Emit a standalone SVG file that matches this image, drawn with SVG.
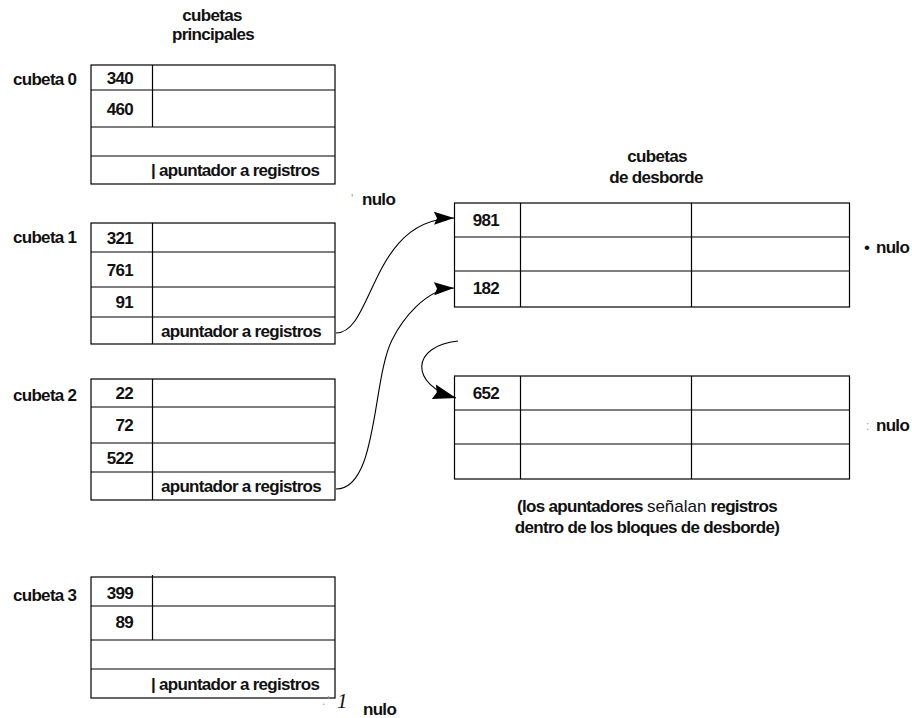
<svg xmlns="http://www.w3.org/2000/svg" width="912" height="718" viewBox="0 0 912 718">
  <style>
    text { font-family: "Liberation Sans", Arial, sans-serif; font-size: 17px; font-weight: bold; letter-spacing: -0.7px; fill: #111; }
    .mid { text-anchor: middle; }
    .num { text-anchor: end; }
    .cell { fill: none; stroke: #000; stroke-width: 1.2; }
    .link { fill: none; stroke: #000; stroke-width: 1.1; }
    .mark { fill: #999; font-weight: normal; font-size: 12px; }
  </style>
  <defs>
    <marker id="ah" markerUnits="userSpaceOnUse" markerWidth="21" markerHeight="14" refX="20" refY="7" orient="auto">
      <path d="M0,0.5 L20,7 L0,13.5 L3,7 Z" fill="#000"/>
    </marker>
    <marker id="ah2" markerUnits="userSpaceOnUse" markerWidth="24" markerHeight="16" refX="23" refY="8" orient="auto">
      <path d="M0,0.5 L23,8 L0,15.5 L3,8 Z" fill="#000"/>
    </marker>
  </defs>

  <!-- column titles -->
  <g id="title-main">
    <text class="mid" x="212" y="21">cubetas</text>
    <text class="mid" x="213" y="40">principales</text>
  </g>
  <g id="title-overflow">
    <text class="mid" x="657" y="162">cubetas</text>
    <text class="mid" x="656" y="183">de desborde</text>
  </g>

  <!-- primary bucket 0 -->
  <g id="cubeta0">
    <text x="13" y="85">cubeta 0</text>
    <rect class="cell" x="91" y="65" width="244" height="119"/>
    <path class="cell" d="M91,90 H335 M91,127 H335 M91,156 H335 M152.5,65 V127"/>
    <text class="num" x="133" y="84">340</text>
    <text class="num" x="133" y="115">460</text>
    <text x="151" y="176">| apuntador a registros</text>
  </g>

  <!-- primary bucket 1 -->
  <g id="cubeta1">
    <text x="13" y="243">cubeta 1</text>
    <rect class="cell" x="91" y="223" width="244" height="121"/>
    <path class="cell" d="M91,252 H335 M91,287 H335 M91,317 H335 M152.5,223 V344"/>
    <text class="num" x="133" y="243.5">321</text>
    <text class="num" x="133" y="275.5">761</text>
    <text class="num" x="133" y="308">91</text>
    <text x="161" y="336.5">apuntador a registros</text>
  </g>

  <!-- primary bucket 2 -->
  <g id="cubeta2">
    <text x="13" y="401">cubeta 2</text>
    <rect class="cell" x="91" y="379" width="244" height="121"/>
    <path class="cell" d="M91,407 H335 M91,443 H335 M91,472 H335 M152.5,379 V500"/>
    <text class="num" x="133" y="399">22</text>
    <text class="num" x="133" y="431">72</text>
    <text class="num" x="133" y="463.5">522</text>
    <text x="161" y="492">apuntador a registros</text>
  </g>

  <!-- primary bucket 3 -->
  <g id="cubeta3">
    <text x="13" y="601">cubeta 3</text>
    <rect class="cell" x="91" y="577" width="244" height="121"/>
    <path class="cell" d="M91,606 H335 M91,640 H335 M91,669 H335 M152.5,575 V640"/>
    <text class="num" x="133" y="599">399</text>
    <text class="num" x="133" y="628">89</text>
    <text x="151" y="690">| apuntador a registros</text>
  </g>

  <!-- overflow block 1 -->
  <g id="desborde1">
    <rect class="cell" x="454.5" y="203" width="395" height="104"/>
    <path class="cell" d="M454.5,237 H849.5 M454.5,271 H849.5 M520.5,203 V307 M691.5,203 V307"/>
    <text class="mid" x="486" y="226">981</text>
    <text class="mid" x="486" y="294">182</text>
  </g>

  <!-- overflow block 2 -->
  <g id="desborde2">
    <rect class="cell" x="454.5" y="376" width="395" height="103"/>
    <path class="cell" d="M454.5,410 H849.5 M454.5,444 H849.5 M520.5,376 V479 M691.5,376 V479"/>
    <text class="mid" x="486" y="399">652</text>
  </g>

  <!-- null pointer labels -->
  <g id="nulos">
    <text class="mark" x="351" y="203">'</text>
    <text x="362" y="205">nulo</text>
    <text x="864" y="253" style="font-weight:normal">•</text>
    <text x="876" y="253">nulo</text>
    <text class="mark" x="866" y="430">:</text>
    <text x="876" y="431">nulo</text>
    <text class="mark" x="322" y="705">. '</text>
    <text x="337" y="708" style="font-family:'Liberation Serif',serif;font-style:italic;font-weight:normal;font-size:21px">1</text>
    <text x="363" y="715">nulo</text>
  </g>

  <!-- caption -->
  <g id="nota">
    <text class="mid" x="647" y="512">(los apuntadores <tspan style="font-weight:normal;letter-spacing:0">señalan</tspan> registros</text>
    <text class="mid" x="647" y="533">dentro de los bloques de desborde)</text>
  </g>

  <!-- pointer connectors -->
  <g id="conectores">
    <path class="link" d="M336,333 C374,333 370,219 454,218" marker-end="url(#ah)"/>
    <path class="link" d="M336,489 C378,489 372,380 392,340 C402,320 425,289 454,288" marker-end="url(#ah)"/>
    <path class="link" d="M458,341 C410,346 410,385 456,398" marker-end="url(#ah2)"/>
  </g>
</svg>
